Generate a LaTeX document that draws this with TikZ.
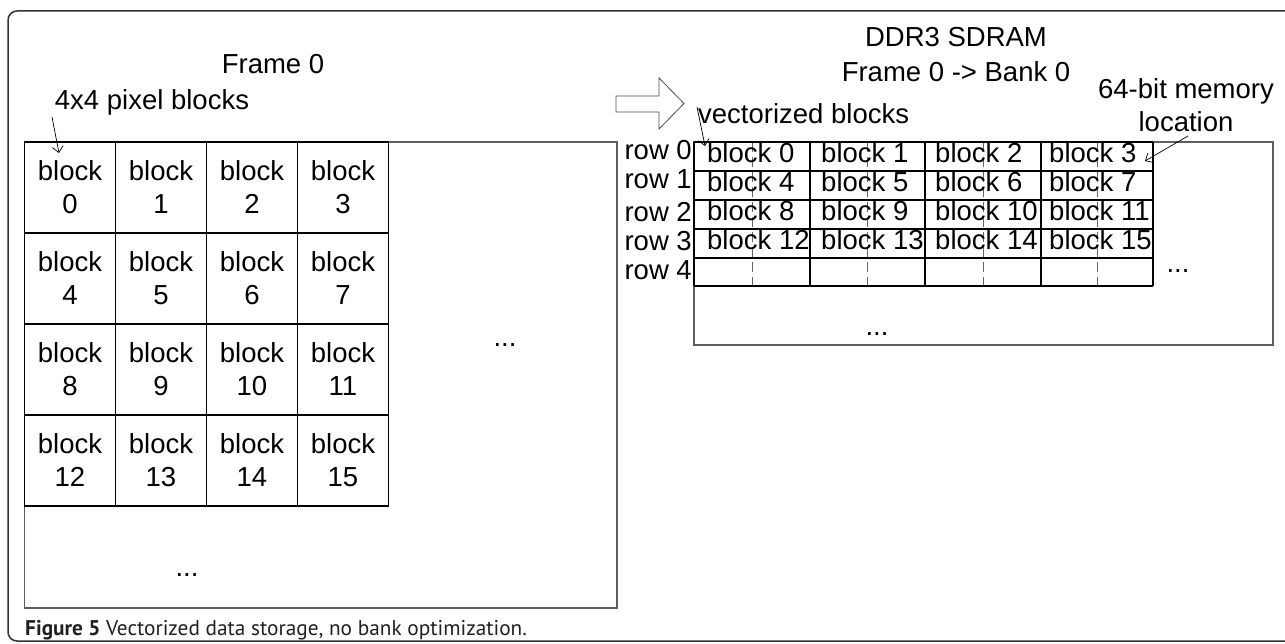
\documentclass[tikz,border=0pt]{standalone}
\usepackage{fontspec}
\setmainfont{Liberation Sans}
\newfontfamily\capfont{PT Sans}
\usetikzlibrary{arrows.meta}
\definecolor{ink}{HTML}{231F20}
\definecolor{boxgray}{HTML}{5E5E5E}
\begin{document}
\begin{tikzpicture}[x=1pt,y=-1pt,
  txt/.style={inner sep=0pt, font=\fontsize{27.5}{33}\selectfont},
  cell/.style={draw=black, line width=1.2pt, minimum width=91pt, minimum height=91pt,
    inner sep=0pt, align=center, font=\fontsize{27.5}{33}\selectfont},
  boxline/.style={line width=1.5pt, draw=boxgray},
  gridline/.style={line width=1.2pt, draw=black},
  midline/.style={line width=0.8pt, draw=black!60, dash pattern=on 10pt off 5pt},
  pointer/.style={line width=0.7pt, -{Straight Barb[length=6pt,width=11pt]}},
]
\useasboundingbox (0,0) rectangle (1285,644);

% outer figure frame
\draw[line width=1.5pt, draw=black!80, rounded corners=9pt] (8,11) rectangle (1330,641);

% ---------- frame in pixel space ----------
\draw[boxline] (24.5,142) rectangle (617,608);
\foreach \r in {0,...,3}{
  \foreach \c in {0,...,3}{
    \pgfmathtruncatemacro\n{4*\r+\c}
    \node[cell] (L\n) at ({70+91*\c},{187.5+91*\r}) {block\\\n};
  }
}
\node[txt, anchor=base] (frameL) at (273,74) {Frame 0};
\node[txt, anchor=base] (pixlbl) at (152,110) {4x4 pixel blocks};
\node[txt, anchor=base] (dotsR) at (505,346) {...};
\node[txt, anchor=base] (dotsB) at (187,576) {...};
\coordinate (pixfrom) at (52,117);
\coordinate (pixtip) at (59,153);
\draw[pointer] (pixfrom) -- (pixtip);

% ---------- mapping arrow ----------
\draw[line width=0.8pt, draw=black!70, fill=white]
  (616,96) -- (659,96) -- (659,78) -- (684,103.5) -- (659,129) -- (659,112) -- (616,112) -- cycle;

% ---------- DDR3 bank layout ----------
\node[txt, anchor=base] (ddr) at (956,47) {DDR3 SDRAM};
\node[txt, anchor=base] (map) at (956,82) {Frame 0 -> Bank 0};
\node[txt, anchor=base] (memA) at (1186,99) {64-bit memory};
\node[txt, anchor=base] (memB) at (1186,132) {location};
\node[txt, anchor=base west] (vec) at (698,124) {vectorized blocks};

\draw[boxline] (694,142) rectangle (1273,345);
\foreach \x in {752,867.5,983,1097}
  \draw[midline] (\x,142) -- (\x,286);
\foreach \y in {142,171,200,229,258,286}
  \draw[gridline] (694,\y) -- (1153,\y);
\foreach \x in {694,810,925,1041,1153}
  \draw[gridline] (\x,142) -- (\x,286);

\foreach \r in {0,...,3}{
  \foreach \c in {0,...,3}{
    \pgfmathtruncatemacro\n{4*\r+\c}
    \node[txt, anchor=base west] (R\n) at ({707+114*\c},{163+29*\r}) {block \n};
  }
}
\foreach \r/\y in {0/160,1/189,2/222,3/251,4/280}
  \node[txt, anchor=base east] (row\r) at (692,\y) {row \r};

\node[txt, anchor=base] (dotsC) at (1178,273) {...};
\node[txt, anchor=base] (dotsD) at (877,335) {...};

\coordinate (vecfrom) at (697,107);
\coordinate (vectip) at (705,146);
\draw[pointer] (vecfrom) -- (vectip);
\coordinate (memfrom) at (1188,136);
\coordinate (memtip) at (1145,161);
\draw[pointer] (memfrom) -- (memtip);

% ---------- caption ----------
\node[anchor=base west, inner sep=0pt, text=ink,
  font=\capfont\fontsize{21.3}{25}\selectfont] (cap) at (25,635)
  {\textbf{Figure 5} Vectorized data storage, no bank optimization.};
\end{tikzpicture}
\end{document}
